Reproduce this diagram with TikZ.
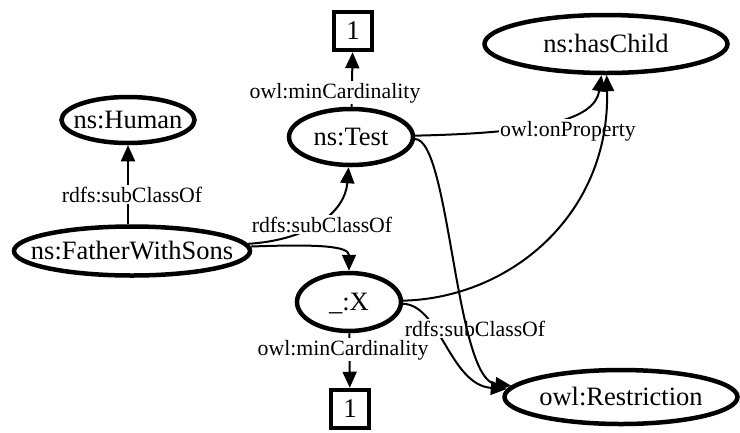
\documentclass[tikz,border=0pt]{standalone}
\usepackage{fontspec}
\setmainfont{Liberation Serif}
\usetikzlibrary{shapes.geometric, arrows.meta}
\newcommand\restext[1]{\makebox[0pt]{\raisebox{-.33em}[0pt][0pt]{#1}}}

\begin{document}
\begin{tikzpicture}[x=1pt, y=-1pt,
    res/.style={draw, ellipse, line width=4.5pt, inner sep=0pt, font=\fontsize{26.5}{29}\selectfont},
    lit/.style={draw, rectangle, line width=4.5pt, minimum size=38pt, inner sep=0pt, font=\fontsize{27}{29}\selectfont},
    edge/.style={line width=2pt, -{Triangle[width=14pt,length=16pt]}},
    lbl/.style={fill=white, inner sep=1.5pt, anchor=base, font=\fontsize{21.8}{23}\selectfont}]
    \useasboundingbox (0,0) rectangle (740,432);
    \node[res, minimum width=133pt, minimum height=46pt] (human) at (128,120) {\restext{ns:Human}};
    \node[res, minimum width=124pt, minimum height=56pt] (test) at (351,137) {\restext{ns:Test}};
    \node[res, minimum width=243pt, minimum height=58pt] (haschild) at (606,44) {\restext{ns:hasChild}};
    \node[res, minimum width=236pt, minimum height=49pt] (father) at (132,251) {\restext{ns:FatherWithSons}};
    \node[res, minimum width=104pt, minimum height=58pt] (blank) at (349,302) {\restext{\_:X}};
    \node[res, minimum width=233pt, minimum height=54pt] (restr) at (621,397) {\restext{owl:Restriction}};
    \node[lit] (one1) at (353,31) {1};
    \node[lit] (one2) at (350,409) {1};

    \draw[edge] (test) -- (one1);
    \draw[edge] (human.south |- father.north) -- (human);
    \draw[edge] (father) .. controls (310,240) and (345,212) .. (test);
    \draw[edge] (father) .. controls (318,244) and (349,246) .. (blank);
    \draw[edge] (test) .. controls (540,133) and (595,120) .. (haschild);
    \draw[edge] (blank) .. controls (440,305) and (450,385) .. (restr);
    \draw[edge] (blank) -- (one2);

    \node[lbl] (card1) at (335,98) {owl:minCardinality};
    \node[lbl] (sub1) at (132,202) {rdfs:subClassOf};
    \node[lbl] (sub2) at (322,232) {rdfs:subClassOf};
    \node[lbl] (prop) at (568,136) {owl:onProperty};
    \node[lbl] (sub3) at (475,336) {rdfs:subClassOf};
    \node[lbl] (card2) at (343,355) {owl:minCardinality};

    \draw[edge] (test) .. controls (450,140) and (455,380) .. (restr);
    \draw[edge] (blank) .. controls (510,298) and (610,215) .. (haschild);
\end{tikzpicture}
\end{document}
